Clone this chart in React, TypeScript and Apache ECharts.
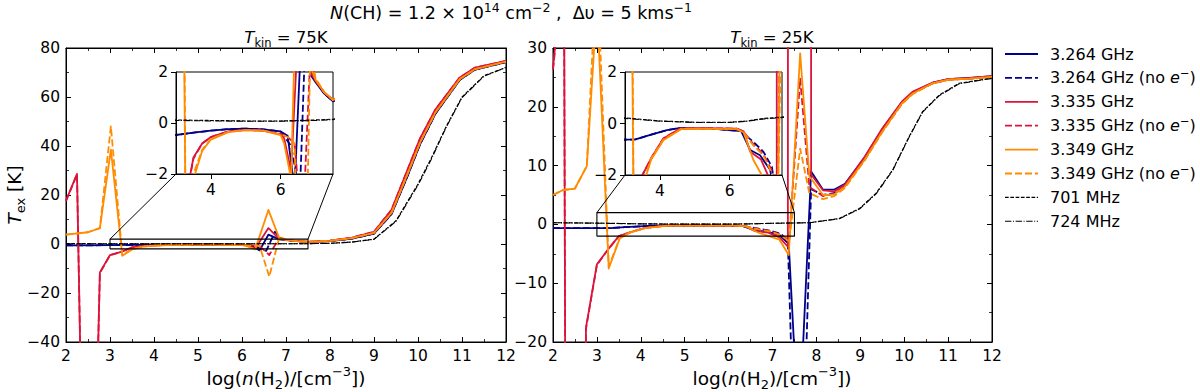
import React, { useEffect, useRef } from "react";
import * as echarts from "echarts";

// ---------------- data ----------------
const seriesNames = [
  "3.264 GHz",
  "3.264 GHz (no e−)",
  "3.335 GHz",
  "3.335 GHz (no e−)",
  "3.349 GHz",
  "3.349 GHz (no e−)",
  "701 MHz",
  "724 MHz",
];
const panelTemps = ["75K", "25K"];
const xRange = [2, 12];
const yRangeHot = [-40, 80];
const yRangeCold = [-20, 30];
const insetXRange = [3, 7.5];
const insetYRange = [-2, 2];
const insetXTicks = [4, 6];

// T_kin = 75 K
const hot_3264 = [[2,-0.6],[2.5,-0.55],[3,-0.47],[3.5,-0.38],[4,-0.3],[4.5,-0.24],[5,-0.22],[5.5,-0.25],[6,-0.33],[6.2,-0.5],[6.4,-2.6],[6.6,3.8],[6.85,1.9],[7,1.6],[7.25,1.15],[7.5,0.85],[8,1.2],[8.5,2.2],[9,4.2],[9.4,12.3],[9.75,27.2],[10.05,40.8],[10.4,53.3],[10.95,67],[11.3,71.2],[12,74.2]];
const hot_3264_noe = [[2,-0.6],[2.5,-0.55],[3,-0.47],[3.5,-0.38],[4,-0.3],[4.5,-0.24],[5,-0.22],[5.5,-0.25],[6,-0.33],[6.3,-0.9],[6.55,-2.8],[6.75,5],[6.9,2.0],[7,1.65],[7.25,1.15],[7.5,0.85],[8,1.2],[8.5,2.2],[9,4.2],[9.4,12.3],[9.75,27.2],[10.05,40.8],[10.4,53.3],[10.95,67],[11.3,71.2],[12,74.2]];
const hot_3335 = [[2,17.7],[2.25,28.6],[2.5,-216],[2.77,-11.6],[3,-4.5],[3.25,-3.2],[3.5,-1.35],[3.75,-0.8],[4,-0.55],[4.5,-0.33],[5,-0.27],[5.5,-0.3],[6,-0.45],[6.1,-0.6],[6.3,-1.9],[6.6,6.5],[6.85,2.0],[7,1.65],[7.25,1.2],[7.5,0.9],[8,1.4],[8.5,2.6],[9,5],[9.4,14],[9.75,29.8],[10.05,43.2],[10.4,55],[10.95,68],[11.3,72],[12,74.7]];
const hot_3335_noe = [[2,17.5],[2.25,28.4],[2.5,-214],[2.77,-11.8],[3,-4.6],[3.25,-3.2],[3.5,-1.4],[3.75,-0.8],[4,-0.55],[4.5,-0.33],[5,-0.27],[5.5,-0.3],[6,-0.42],[6.2,-0.55],[6.4,-0.8],[6.62,-4.5],[6.85,2.6],[7,1.7],[7.25,1.2],[7.5,0.9],[8,1.4],[8.5,2.6],[9,5],[9.4,14],[9.75,29.8],[10.05,43.2],[10.4,55],[10.95,68],[11.3,72],[12,74.7]];
const hot_3349 = [[2,3.8],[2.5,4.8],[2.77,6.5],[3.02,38.5],[3.28,-4.8],[3.5,-2.2],[3.75,-1.1],[4,-0.65],[4.5,-0.36],[5,-0.28],[5.5,-0.3],[6,-0.48],[6.1,-0.8],[6.3,-2.2],[6.6,13.9],[6.85,2.2],[7,1.7],[7.25,1.2],[7.5,0.9],[8,1.3],[8.5,2.4],[9,4.5],[9.4,12.8],[9.75,28],[10.05,41.5],[10.4,53.8],[10.95,67.3],[11.3,71.4],[12,74.4]];
const hot_3349_noe = [[2,3.8],[2.5,4.8],[2.77,6.5],[3.02,48],[3.28,-4.5],[3.5,-2.0],[3.75,-1.05],[4,-0.62],[4.5,-0.35],[5,-0.28],[5.5,-0.3],[6,-0.45],[6.2,-0.55],[6.4,-0.8],[6.62,-13.3],[6.85,2.9],[7,1.75],[7.25,1.2],[7.5,0.9],[8,1.3],[8.5,2.4],[9,4.5],[9.4,12.8],[9.75,28],[10.05,41.5],[10.4,53.8],[10.95,67.3],[11.3,71.4],[12,74.4]];
const hot_701 = [[2,0.15],[3,0.12],[4,0.1],[5,0.08],[6,0.08],[7,0.12],[7.5,0.15],[8,0.3],[8.5,0.8],[9,2],[9.5,9.5],[10,24.5],[10.3,35],[10.65,48.3],[11,60],[11.5,68.7],[12,72.1]];
const hot_724 = [[2,0.12],[3,0.1],[4,0.08],[5,0.07],[6,0.07],[7,0.1],[7.5,0.13],[8,0.28],[8.5,0.75],[9,1.9],[9.5,9.2],[10,24],[10.3,34.5],[10.65,48],[11,59.7],[11.5,68.5],[12,72]];

// T_kin = 25 K
const cold_3264 = [[2,-0.65],[3,-0.63],[3.3,-0.62],[3.63,-0.48],[4.2,-0.26],[4.55,-0.18],[5.5,-0.2],[6.33,-0.3],[6.59,-1.03],[6.87,-1.23],[7.16,-1.8],[7.37,-3.3],[7.6,-36],[7.88,9],[8.15,5.9],[8.4,5.9],[8.65,6.9],[9.1,11.4],[9.5,16.2],[9.95,20.8],[10.2,22.5],[10.65,24.1],[11,24.7],[11.5,24.9],[12,25.2]];
const cold_3264_noe = [[2,-0.65],[3,-0.63],[3.3,-0.62],[3.63,-0.48],[4.2,-0.26],[4.55,-0.18],[5.5,-0.2],[6.33,-0.3],[6.4,-0.4],[6.68,-0.71],[6.97,-1.1],[7.21,-1.68],[7.35,-3],[7.6,-64],[7.88,6],[8.15,5.0],[8.4,5.3],[8.65,6.5],[9.1,11],[9.5,15.8],[9.95,20.6],[10.2,22.3],[10.65,24],[11,24.6],[11.5,24.8],[12,25.1]];
const cold_3335 = [[2,26.5],[2.25,46],[2.5,-580],[2.75,-17.6],[3,-6.8],[3.25,-4.3],[3.5,-2.0],[3.77,-1.3],[4.1,-0.58],[4.58,-0.2],[5,-0.18],[6.2,-0.2],[6.4,-0.3],[6.59,-1.1],[6.9,-1.4],[7.16,-2.2],[7.35,-3.8],[7.6,5000],[7.88,8.5],[8.15,5.8],[8.4,5.6],[8.65,6.8],[9.1,11.5],[9.5,16.3],[9.95,20.9],[10.2,22.6],[10.65,24.1],[11,24.7],[11.5,24.9],[12,25.2]];
const cold_3335_noe = [[2,26.3],[2.25,45],[2.5,-575],[2.75,-17.8],[3,-6.9],[3.25,-4.3],[3.5,-2.0],[3.77,-1.3],[4.1,-0.58],[4.58,-0.2],[5,-0.18],[6.2,-0.2],[6.4,-0.32],[6.68,-0.8],[6.97,-1.2],[7.2,-1.8],[7.38,-2.7],[7.63,24.8],[7.84,6.4],[8.15,4.8],[8.4,5.2],[8.65,6.5],[9.1,11.2],[9.5,16],[9.95,20.7],[10.2,22.4],[10.65,24],[11,24.6],[11.5,24.85],[12,25.1]];
const cold_3349 = [[2,5.0],[2.23,5.85],[2.5,6.1],[2.77,9.9],[3.0,37.5],[3.27,-7.5],[3.52,-2.4],[3.75,-1.4],[4.1,-0.65],[4.6,-0.22],[5,-0.2],[6.2,-0.22],[6.4,-0.35],[6.68,-1.42],[6.92,-2.0],[7.16,-2.6],[7.37,-5.2],[7.63,29.1],[7.84,8.2],[8.15,5.0],[8.4,5.1],[8.65,6.4],[9.1,11],[9.5,15.8],[9.95,20.6],[10.2,22.3],[10.65,24],[11,24.6],[11.5,24.8],[12,25.1]];
const cold_3349_noe = [[2,5.0],[2.23,5.85],[2.5,6.1],[2.77,9.9],[3.0,45],[3.27,-7.2],[3.52,-2.3],[3.75,-1.35],[4.1,-0.62],[4.6,-0.22],[5,-0.2],[6.2,-0.22],[6.4,-0.35],[6.68,-0.85],[6.97,-1.25],[7.2,-1.9],[7.38,-2.9],[7.63,12.9],[7.84,5.3],[8.15,4.3],[8.4,4.8],[8.65,6.2],[9.1,10.9],[9.5,15.7],[9.95,20.5],[10.2,22.2],[10.65,24],[11,24.6],[11.5,24.8],[12,25.1]];
const cold_701 = [[2,0.3],[3,0.22],[4,0.1],[5,0.05],[6,0.05],[6.5,0.1],[7,0.2],[7.5,0.25],[7.84,0.3],[8.52,1.0],[8.98,2.7],[9.36,5.3],[9.74,9.3],[10.11,14.9],[10.42,19.2],[10.8,22],[11.25,24],[11.93,24.8],[12,24.85]];
const cold_724 = [[2,0.28],[3,0.2],[4,0.09],[5,0.04],[6,0.04],[6.5,0.09],[7,0.18],[7.5,0.23],[7.84,0.28],[8.52,0.95],[8.98,2.6],[9.36,5.2],[9.74,9.2],[10.11,14.8],[10.42,19.1],[10.8,21.9],[11.25,23.9],[11.93,24.75],[12,24.8]];

const hotPanel = [hot_3264, hot_3264_noe, hot_3335, hot_3335_noe, hot_3349, hot_3349_noe, hot_701, hot_724];
const coldPanel = [cold_3264, cold_3264_noe, cold_3335, cold_3335_noe, cold_3349, cold_3349_noe, cold_701, cold_724];

// ---------------- styles ----------------
const FONT = "DejaVu Sans";
const FS_TICK = 15.5;
const FS = 16;
const FS_SMALL = 11.5;
const FS_TITLE = 17.5;
const FS_TITLE_SMALL = 12.5;
const FS_SUBT = 16.5;
const FS_SUBT_SMALL = 11.5;
const FS_AX = 18.5;
const FS_AX_SMALL = 13;
const BLUE = "#00008B";
const RED = "#DC143C";
const ORANGE = "#FF8C00";
const colors = [BLUE, BLUE, RED, RED, ORANGE, ORANGE, "#000", "#000"];
const dashes: any[] = ["solid", [7, 3], "solid", [7, 3], "solid", [7, 3], [3.7, 1.6], [6.4, 1.6, 1, 1.6]];
const widths = [1.8, 1.8, 1.8, 1.8, 1.8, 1.8, 1.1, 1.1];

function makeRich(big: number, small: number): any {
  const lh = Math.round(big * 1.4);
  const slh = Math.round(small * 1.15);
  return {
    n: { fontFamily: FONT, fontSize: big, lineHeight: lh, verticalAlign: "middle", fill: "#000", color: "#000" },
    it: { fontFamily: FONT, fontSize: big, lineHeight: lh, verticalAlign: "middle", fontStyle: "italic", fill: "#000", color: "#000" },
    sup: { fontFamily: FONT, fontSize: small, lineHeight: slh, verticalAlign: "top", fill: "#000", color: "#000" },
    sub: { fontFamily: FONT, fontSize: small, lineHeight: slh, verticalAlign: "bottom", fill: "#000", color: "#000" },
  };
}
const richNormal = makeRich(FS, FS_SMALL);
const richTitle = makeRich(FS_TITLE, FS_TITLE_SMALL);
const richSubtitle = makeRich(FS_SUBT, FS_SUBT_SMALL);
const richAxis = makeRich(FS_AX, FS_AX_SMALL);

const fmt = (v: number) => String(v).replace("-", "\u2212");

function richText(x: number, y: number, text: string, rich: any, size: number, align = "center", rotation = 0): any {
  return {
    type: "text",
    x,
    y,
    rotation,
    silent: true,
    z: 50,
    style: {
      text,
      rich,
      fill: "#000",
      font: `${size}px "${FONT}"`,
      align,
      verticalAlign: "middle",
      textAlign: align,
      textVerticalAlign: "middle",
    },
  };
}

function legendRich(name: string) {
  return "{n|" + name.replace("(no e−)", "(no }{it|e}{sup|−}{n|)") + "}";
}

function buildSeries(panel: number[][][], xi: number, yi: number, z: number) {
  return panel.map((data, k) => ({
    type: "line",
    name: seriesNames[k],
    data,
    xAxisIndex: xi,
    yAxisIndex: yi,
    showSymbol: false,
    symbol: "none",
    silent: true,
    clip: true,
    z,
    lineStyle: { color: colors[k], width: widths[k], type: dashes[k], join: "round", cap: "butt" },
  }));
}

const labelStyle = { color: "#000", fontSize: FS_TICK, fontFamily: FONT, formatter: fmt };

function mainX(grid: number, pos: string, showLabel: boolean): any {
  return {
    type: "value",
    gridIndex: grid,
    position: pos,
    min: xRange[0],
    max: xRange[1],
    interval: 1,
    axisLine: { show: true, onZero: false, lineStyle: { color: "#000", width: 1 } },
    axisTick: { show: true, inside: true, length: 5, lineStyle: { color: "#000", width: 1 } },
    minorTick: { show: true, splitNumber: 2, length: 3, lineStyle: { color: "#000", width: 0.8 } },
    splitLine: { show: false },
    minorSplitLine: { show: false },
    axisLabel: { show: showLabel, margin: 6, ...labelStyle },
  };
}

function mainY(grid: number, pos: string, range: number[], interval: number, showLabel: boolean): any {
  return {
    type: "value",
    gridIndex: grid,
    position: pos,
    min: range[0],
    max: range[1],
    interval,
    axisLine: { show: true, onZero: false, lineStyle: { color: "#000", width: 1 } },
    axisTick: { show: true, inside: true, length: 5, lineStyle: { color: "#000", width: 1 } },
    minorTick: { show: true, splitNumber: 2, length: 3, lineStyle: { color: "#000", width: 0.8 } },
    splitLine: { show: false },
    minorSplitLine: { show: false },
    axisLabel: { show: showLabel, margin: 6, ...labelStyle },
  };
}

function insetX(grid: number): any {
  return {
    type: "value",
    gridIndex: grid,
    position: "bottom",
    min: insetXRange[0],
    max: insetXRange[1],
    z: 12,
    axisLine: { show: true, onZero: false, lineStyle: { color: "#000", width: 1 } },
    axisTick: { show: true, inside: false, length: 5, customValues: insetXTicks, lineStyle: { color: "#000" } },
    splitLine: { show: false },
    axisLabel: { show: true, margin: 8, customValues: insetXTicks, ...labelStyle },
  };
}

function insetY(grid: number): any {
  return {
    type: "value",
    gridIndex: grid,
    position: "left",
    min: insetYRange[0],
    max: insetYRange[1],
    interval: 2,
    z: 12,
    axisLine: { show: true, onZero: false, lineStyle: { color: "#000", width: 1 } },
    axisTick: { show: true, inside: false, length: 5, lineStyle: { color: "#000" } },
    splitLine: { show: false },
    axisLabel: { show: true, margin: 8, ...labelStyle },
  };
}

function rectSeries(xi: number, yi: number): any {
  const [x0, x1] = insetXRange;
  const [y0, y1] = insetYRange;
  return {
    type: "line",
    data: [[x0, y0], [x1, y0], [x1, y1], [x0, y1], [x0, y0]],
    xAxisIndex: xi,
    yAxisIndex: yi,
    showSymbol: false,
    symbol: "none",
    silent: true,
    z: 4,
    lineStyle: { color: "#000", width: 1.1 },
  };
}

function staticGraphics(): any[] {
  const g: any[] = [];
  g.push(
    richText(
      511,
      13,
      "{it|N}{n|(CH) = 1.2 × 10}{sup|14}{n| cm}{sup|−2}{n| ,  Δυ = 5 kms}{sup|−1}",
      richTitle,
      FS_TITLE
    )
  );
  g.push(richText(286, 37, `{it|T}{sub|kin}{n| = ${panelTemps[0]}}`, richSubtitle, FS_SUBT));
  g.push(richText(772, 37, `{it|T}{sub|kin}{n| = ${panelTemps[1]}}`, richSubtitle, FS_SUBT));
  const xName = "{n|log(}{it|n}{n|(H}{sub|2}{n|)/[cm}{sup|−3}{n|])}";
  g.push(richText(286, 378, xName, richAxis, FS_AX));
  g.push(richText(772, 378, xName, richAxis, FS_AX));
  g.push(richText(14, 195, "{it|T}{sub|ex}{n| [K]}", richAxis, FS_AX, "center", Math.PI / 2));
  // legend
  seriesNames.forEach((name, k) => {
    const y = 54 + k * 23.9;
    g.push({
      type: "line",
      silent: true,
      z: 50,
      shape: { x1: 1005, y1: y, x2: 1038, y2: y },
      style: {
        stroke: colors[k],
        lineWidth: widths[k],
        lineDash: dashes[k] === "solid" ? null : dashes[k],
      },
    });
    g.push(richText(1050, y, legendRich(name), richNormal, FS, "left"));
  });
  return g;
}

function buildOption(): any {
  const gridBase = { show: true, borderColor: "#000", borderWidth: 1, outerBoundsMode: "none", containLabel: false };
  return {
    animation: false,
    backgroundColor: "#fff",
    grid: [
      { ...gridBase, left: 66, top: 48, width: 440, height: 294, backgroundColor: "transparent" },
      { ...gridBase, left: 553, top: 48, width: 439, height: 294, backgroundColor: "transparent" },
      { ...gridBase, left: 176, top: 72, width: 157, height: 102, backgroundColor: "#fff", z: 10 },
      { ...gridBase, left: 625, top: 72, width: 157, height: 103, backgroundColor: "#fff", z: 10 },
    ],
    xAxis: [
      mainX(0, "bottom", true),
      mainX(0, "top", false),
      mainX(1, "bottom", true),
      mainX(1, "top", false),
      insetX(2),
      insetX(3),
    ],
    yAxis: [
      mainY(0, "left", yRangeHot, 20, true),
      mainY(0, "right", yRangeHot, 20, false),
      mainY(1, "left", yRangeCold, 10, true),
      mainY(1, "right", yRangeCold, 10, false),
      insetY(2),
      insetY(3),
    ],
    series: [
      ...buildSeries(hotPanel, 0, 0, 2),
      ...buildSeries(coldPanel, 2, 2, 2),
      ...buildSeries(hotPanel, 4, 4, 11),
      ...buildSeries(coldPanel, 5, 5, 11),
      rectSeries(0, 0),
      rectSeries(2, 2),
    ],
  };
}

export default function App() {
  const ref = useRef<HTMLDivElement>(null);
  useEffect(() => {
    const el = ref.current;
    if (!el) return;
    const chart = echarts.init(el, null, { renderer: "svg" });
    chart.setOption(buildOption());
    const g = staticGraphics();
    const pairs = [
      [0, 4],
      [2, 5],
    ];
    for (const [mainAxis, insetAxis] of pairs) {
      for (const xv of insetXRange) {
        const a: any = chart.convertToPixel({ xAxisIndex: mainAxis, yAxisIndex: mainAxis } as any, [xv, insetYRange[1]]);
        const b: any = chart.convertToPixel({ xAxisIndex: insetAxis, yAxisIndex: insetAxis } as any, [xv, insetYRange[0]]);
        if (a && b) {
          g.push({
            type: "line",
            silent: true,
            z: 5,
            shape: { x1: a[0], y1: a[1], x2: b[0], y2: b[1] },
            style: { stroke: "#000", lineWidth: 1 },
          });
        }
      }
    }
    chart.setOption({ graphic: g });
    return () => chart.dispose();
  }, []);
  return <div ref={ref} style={{ position: "absolute", left: 0, top: 0, width: 1200, height: 392 }} />;
}
